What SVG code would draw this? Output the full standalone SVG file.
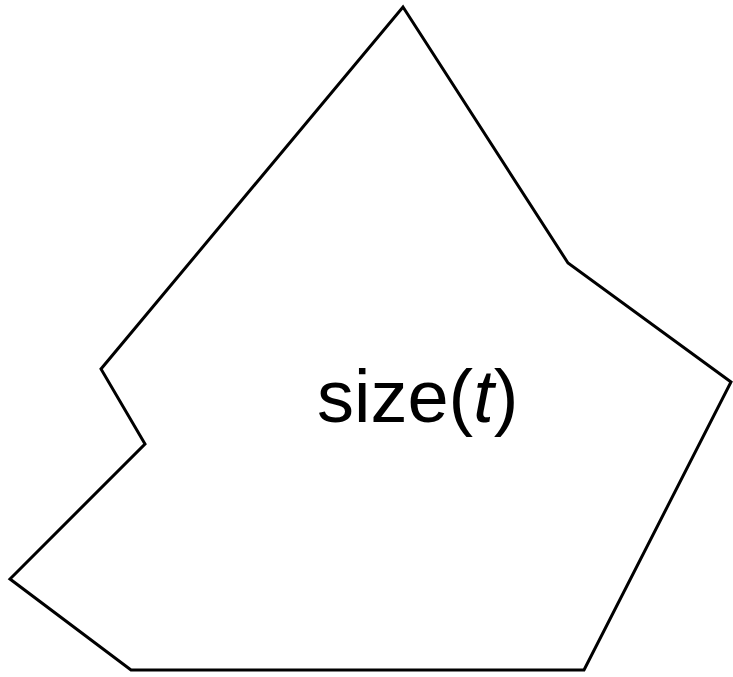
<svg xmlns="http://www.w3.org/2000/svg" width="733" height="677" viewBox="0 0 733 677">
<style>
.shape{fill:none;stroke:#000;stroke-width:3;stroke-linejoin:miter}
.lbl{font-family:"Liberation Sans",Arial,sans-serif;font-size:74px;fill:#000}
</style>
<rect width="733" height="677" fill="#fff"/>
<g id="region">
<polygon class="shape" points="403,7 568,263 731,382 584,670 131,670 10,579 145,444 101,369"/>
<text class="lbl" x="317" y="422">size(<tspan font-style="italic">t</tspan>)</text>
</g>
</svg>
